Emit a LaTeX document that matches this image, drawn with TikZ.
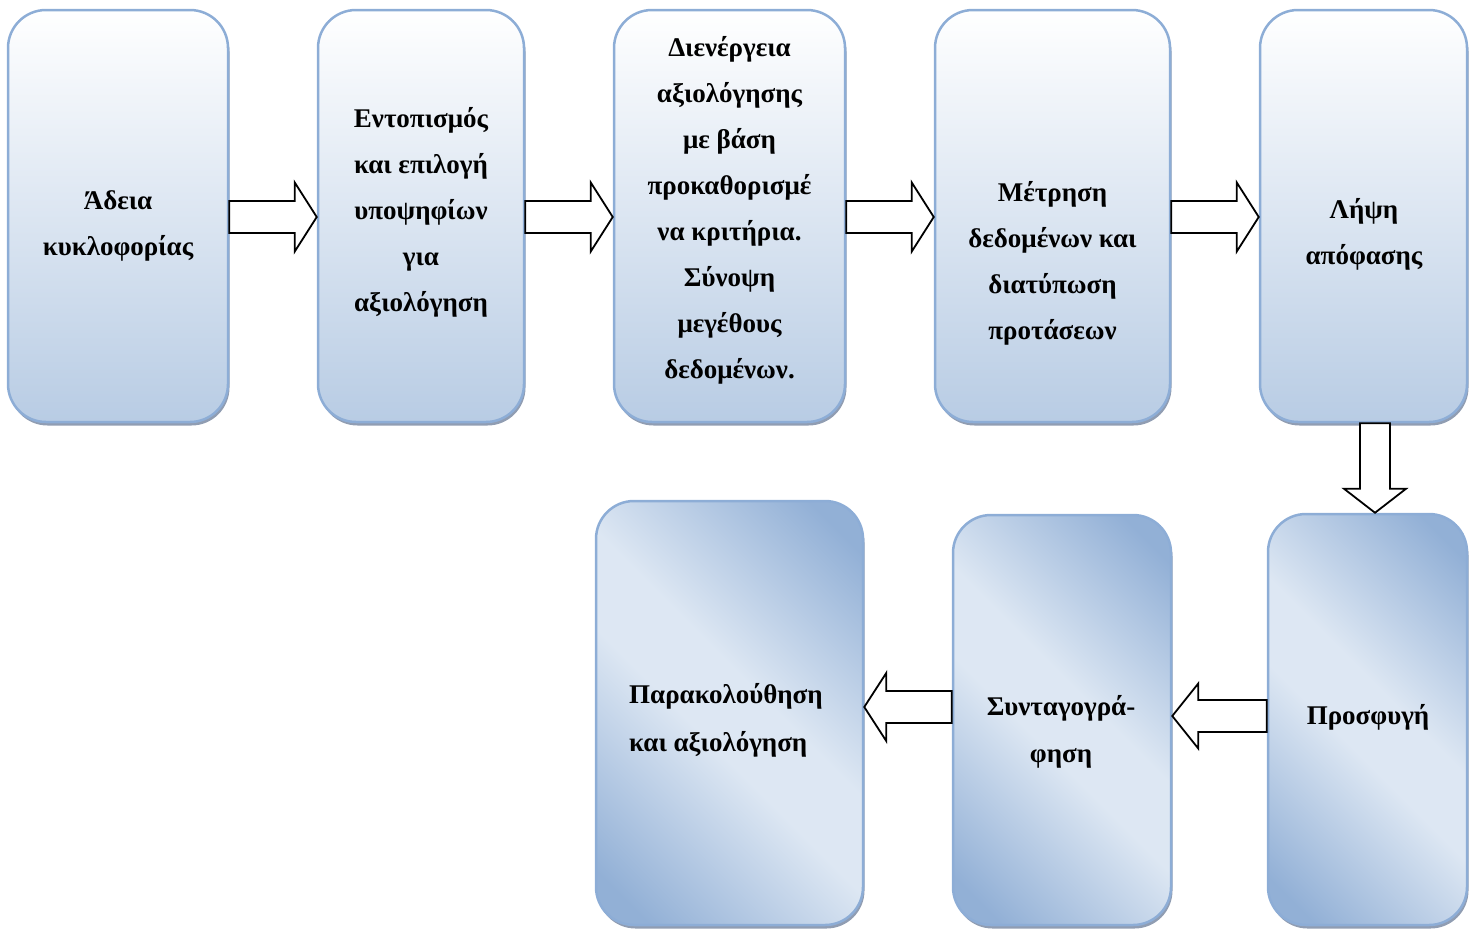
\documentclass[tikz,border=0pt]{standalone}
\usepackage{fontspec}
\setmainfont{Liberation Serif}
\usetikzlibrary{calc,shadows}
\definecolor{bordc}{RGB}{141,173,214}
\definecolor{topbot}{RGB}{184,204,228}
\definecolor{dk}{RGB}{146,176,214}
\definecolor{lt}{RGB}{221,231,243}
\definecolor{shc}{RGB}{125,140,165}
\pgfdeclarehorizontalshading{diagsh}{100bp}{color(0bp)=(dk); color(20bp)=(dk); color(45bp)=(lt); color(55bp)=(lt); color(80bp)=(dk); color(100bp)=(dk)}
\tikzset{
  boxbase/.style={draw=bordc, line width=2.5pt, rounded corners=38pt, inner sep=0pt,
    drop shadow={shadow xshift=1.5pt, shadow yshift=-3.5pt, fill=shc, opacity=0.85}},
  topbox/.style={boxbase, top color=white, bottom color=topbot},
  botbox/.style={boxbase, shade, shading=diagsh, shading angle=45},
  lbl/.style={font=\bfseries\fontsize{27}{46}\selectfont, align=center, inner sep=0pt},
  barrow/.style={draw=black, fill=white, line width=1.8pt, line join=miter},
}
% right-pointing block arrow: from node #1 to node #2 at height #3
\newcommand\arrR[3]{%
  \draw[barrow] ($(#1.east |- 0,#3)+(0,-16)$) -- ($(#2.west |- 0,#3)+(-22,-16)$)
    -- ($(#2.west |- 0,#3)+(-22,-34.5)$) -- (#2.west |- 0,#3)
    -- ($(#2.west |- 0,#3)+(-22,34.5)$) -- ($(#2.west |- 0,#3)+(-22,16)$)
    -- ($(#1.east |- 0,#3)+(0,16)$) -- cycle;}
% left-pointing block arrow: from node #1 to node #2 at height #3, head length #4, head half #5
\newcommand\arrL[5]{%
  \draw[barrow] ($(#1.west |- 0,#3)+(0,-16)$) -- ($(#2.east |- 0,#3)+(#4,-16)$)
    -- ($(#2.east |- 0,#3)+(#4,-#5)$) -- (#2.east |- 0,#3)
    -- ($(#2.east |- 0,#3)+(#4,#5)$) -- ($(#2.east |- 0,#3)+(#4,16)$)
    -- ($(#1.west |- 0,#3)+(0,16)$) -- cycle;}
\begin{document}
\begin{tikzpicture}[x=1pt,y=-1pt]
\useasboundingbox (0,0) rectangle (1469,930);
% top row
\node[topbox, minimum width=220, minimum height=412] (b1) at (118,216) {};
\node[topbox, minimum width=206, minimum height=412] (b2) at (421,216) {};
\node[topbox, minimum width=231, minimum height=412] (b3) at (729.5,216) {};
\node[topbox, minimum width=235, minimum height=412] (b4) at (1052.5,216) {};
\node[topbox, minimum width=207, minimum height=412] (b5) at (1363.5,216) {};
% bottom row
\node[botbox, minimum width=199, minimum height=411] (b6) at (1367.5,719.5) {};
\node[botbox, minimum width=218, minimum height=410] (b7) at (1062,720) {};
\node[botbox, minimum width=267, minimum height=424] (b8) at (729.5,713) {};
% labels
\node[lbl] (t1) at (118,226) {Άδεια\\κυκλοφορίας};
\node[lbl] (t2) at (421,212) {Εντοπισμός\\και επιλογή\\υποψηφίων\\για\\αξιολόγηση};
\node[lbl] (t3) at (729.5,210) {Διενέργεια\\αξιολόγησης\\με βάση\\προκαθορισμέ\\να κριτήρια.\\Σύνοψη\\μεγέθους\\δεδομένων.};
\node[lbl] (t4) at (1052.5,263) {Μέτρηση\\δεδομένων και\\διατύπωση\\προτάσεων};
\node[lbl] (t5) at (1364,234) {Λήψη\\απόφασης};
\node[lbl] (t6) at (1368,717) {Προσφυγή};
\node[lbl, font=\bfseries\fontsize{27}{47}\selectfont] (t7) at (1061,731.5) {Συνταγογρά-\\φηση};
\node[lbl, align=left, anchor=west, font=\bfseries\fontsize{27}{48}\selectfont] (t8) at (629,720) {Παρακολούθηση\\και αξιολόγηση};
% arrows
\arrR{b1}{b2}{217}
\arrR{b2}{b3}{217}
\arrR{b3}{b4}{217}
\arrR{b4}{b5}{217}
\draw[barrow] ($(b5.south)+(-3.5,0)$) -- ($(b6.north)+(-7.5,-24)$)
  -- ($(b6.north)+(-23.5,-24)$) -- ($(b6.north)+(7.5,0)$)
  -- ($(b6.north)+(38.5,-24)$) -- ($(b6.north)+(22.5,-24)$)
  -- ($(b5.south)+(26.5,0)$) -- cycle;
\arrL{b6}{b7}{716}{26}{32.5}
\arrL{b7}{b8}{707}{22}{34}
\end{tikzpicture}
\end{document}
